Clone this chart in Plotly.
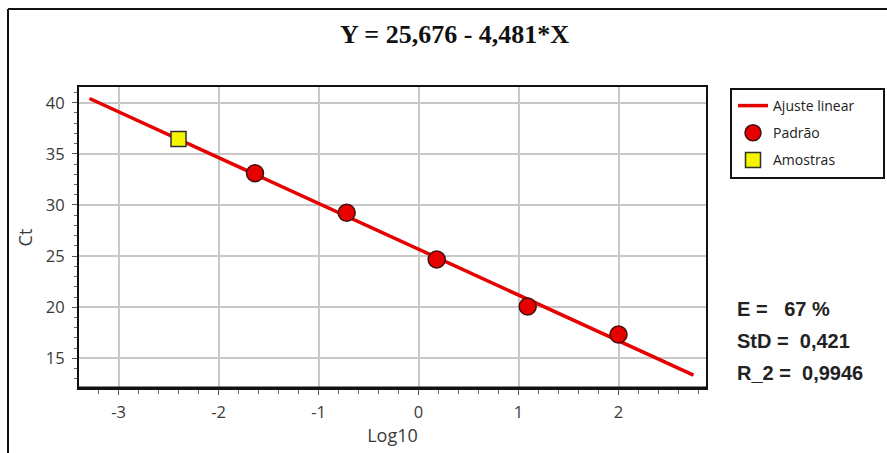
import plotly.graph_objects as go

# Data
padrao_x = [-1.635, -0.718, 0.182, 1.092, 2.0]
padrao_y = [33.1, 29.24, 24.67, 20.07, 17.34]
amostra_x = [-2.40]
amostra_y = [36.45]
fit_intercept = 25.676
fit_slope = -4.481
fit_x = [-3.29, 2.75]
fit_y = [fit_intercept + fit_slope * v for v in fit_x]

x_ticks = [-3, -2, -1, 0, 1, 2]
y_ticks = [15, 20, 25, 30, 35, 40]

title_text = "Y = 25,676 - 4,481*X"
stats = ["E =\u00a0\u00a0\u00a067 %", "StD =\u00a0\u00a00,421", "R_2 =\u00a0\u00a00,9946"]

W, H = 887, 453
L, R, T, B = 79, 181, 87, 65
pw, ph = W - L - R, H - T - B

def px(xpix):
    return (xpix - L) / pw

def py(ypix):
    return (H - B - ypix) / ph

fig = go.Figure()
fig.add_trace(go.Scatter(x=fit_x, y=fit_y, mode="lines", name="Ajuste linear",
                         line=dict(color="#e60000", width=3.5), legendgroup="a"))
fig.add_trace(go.Scatter(x=padrao_x, y=padrao_y, mode="markers", name="Padrão",
                         marker=dict(symbol="circle", size=17, color="#e60000",
                                     line=dict(color="#401010", width=1.5)), legendgroup="b"))
fig.add_trace(go.Scatter(x=amostra_x, y=amostra_y, mode="markers", name="Amostras",
                         marker=dict(symbol="square", size=15, color="#f5f500",
                                     line=dict(color="#303030", width=1.5)), legendgroup="c"))

tickfont = dict(family="Open Sans, sans-serif", size=16.5, color="#3a3a3a")
titlefont = dict(family="Open Sans, sans-serif", size=18, color="#3a3a3a")
fig.update_xaxes(range=[-3.395, 2.875], tickvals=x_ticks, ticktext=[str(v) for v in x_ticks],
                 showgrid=True, gridcolor="#c8c8c8", gridwidth=1.5,
                 showline=True, linecolor="#111111", linewidth=2, mirror=True,
                 ticks="outside", ticklen=5, tickcolor="#555555",
                 minor=dict(dtick=0.2, ticks="outside", ticklen=4, tickcolor="#666666", showgrid=False),
                 zeroline=False, tickfont=tickfont, ticklabelstandoff=3,
                 title=dict(text="Log10", font=titlefont, standoff=7))
fig.update_yaxes(range=[12.1, 41.54], tickvals=y_ticks, ticktext=[str(v) for v in y_ticks],
                 showgrid=True, gridcolor="#c8c8c8", gridwidth=1.5,
                 showline=True, linecolor="#111111", linewidth=2, mirror=True,
                 ticks="outside", ticklen=5, tickcolor="#555555",
                 minor=dict(dtick=1, ticks="outside", ticklen=3, tickcolor="#666666", showgrid=False),
                 zeroline=False, tickfont=tickfont, ticklabelstandoff=4,
                 title=dict(text="Ct", font=titlefont, standoff=9))

annotations = [
    dict(text="<b>" + title_text + "</b>", xref="paper", yref="paper",
         x=px(455), y=py(35), xanchor="center", yanchor="middle", showarrow=False,
         font=dict(family="Liberation Serif, Times New Roman, serif", size=26, color="#111111")),
]
for s, yy in zip(stats, [309, 341, 373]):
    annotations.append(dict(text="<b>" + s + "</b>", xref="paper", yref="paper",
                            x=px(735), y=py(yy), xanchor="left", yanchor="middle", showarrow=False,
                            font=dict(family="Liberation Sans, Arial, sans-serif", size=20, color="#222222")))

shapes = [
    dict(type="line", xref="paper", yref="paper", x0=px(8), x1=px(8), y0=py(9), y1=py(460),
         line=dict(color="#111111", width=2)),
    dict(type="line", xref="paper", yref="paper", x0=px(8), x1=px(900), y0=py(9), y1=py(9),
         line=dict(color="#111111", width=2)),
    dict(type="line", xref="paper", yref="paper", x0=0, x1=1, y0=0, y1=0,
         line=dict(color="#111111", width=3)),
    # legend frame
    dict(type="rect", xref="paper", yref="paper", x0=px(731), x1=px(884), y0=py(178), y1=py(89),
         line=dict(color="#111111", width=2), fillcolor="rgba(0,0,0,0)", layer="above"),
]

fig.update_layout(
    width=W, height=H, margin=dict(l=L, r=R, t=T, b=B, autoexpand=False),
    paper_bgcolor="white", plot_bgcolor="white",
    showlegend=True,
    legend=dict(x=px(733), y=py(90), xanchor="left", yanchor="top",
                borderwidth=0, bgcolor="rgba(0,0,0,0)",
                font=dict(family="Open Sans, sans-serif", size=14, color="#222222"),
                tracegroupgap=6, traceorder="grouped", itemwidth=30),
    annotations=annotations, shapes=shapes,
)

fig.write_html("out.html")
